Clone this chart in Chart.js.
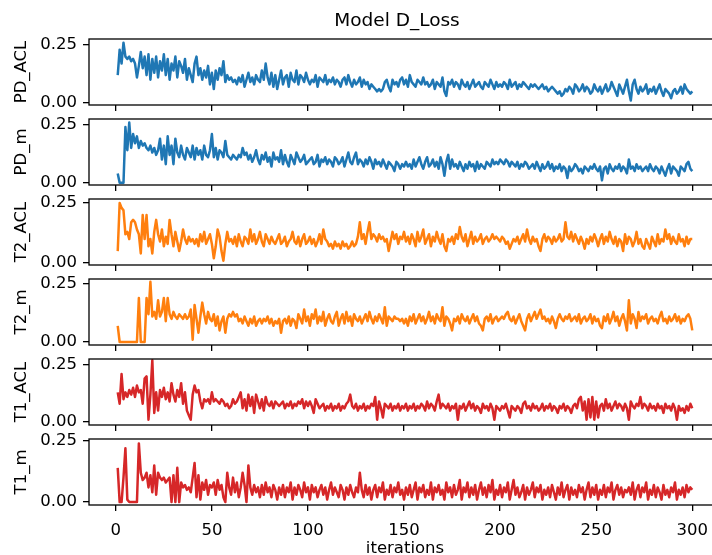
<!DOCTYPE html>
<html>
<head>
<meta charset="utf-8">
<script src="https://cdn.jsdelivr.net/npm/chart.js@4"></script>
<style>
  html, body { margin: 0; padding: 0; background: #fff; overflow: hidden; }
  #fig { position: relative; width: 722px; height: 555px; }
  #fig canvas { position: absolute; left: 0; }
</style>
</head>
<body>
<div id="fig"></div>
<script>
// tick labels
const xTickValues = [0, 50, 100, 150, 200, 250, 300];
const yTickValues = [0, 0.25];
const panelNames = ['PD_ACL', 'PD_m', 'T2_ACL', 'T2_m', 'T1_ACL', 'T1_m'];

// series values, iterations 1..300
const PD_ACL = [
  .12,.23,.17,.26,.2,.19,.2,.18,.19,.17,.11,.16,.22,.15,.2,.12,.21,.1,.19,.13,.2,.11,.18,.14,.21,
  .12,.19,.1,.17,.14,.2,.11,.18,.16,.13,.19,.1,.15,.12,.09,.17,.2,.12,.15,.1,.14,.11,.16,.08,.13,
  .06,.14,.1,.15,.12,.18,.09,.12,.1,.11,.09,.1,.08,.11,.09,.12,.07,.1,.13,.09,.11,.08,.12,.1,.09,
  .14,.1,.17,.11,.08,.13,.07,.12,.06,.1,.14,.08,.11,.12,.07,.13,.1,.09,.14,.08,.12,.11,.09,.13,.1,
  .08,.1,.09,.12,.07,.11,.1,.09,.12,.08,.1,.09,.11,.08,.1,.09,.07,.1,.11,.08,.12,.09,.07,.1,.08,
  .09,.11,.07,.1,.08,.09,.06,.08,.07,.06,.05,.06,.05,.06,.09,.1,.07,.05,.1,.08,.09,.07,.1,.11,.08,
  .1,.07,.12,.09,.08,.07,.1,.09,.08,.11,.08,.09,.07,.08,.1,.06,.09,.08,.07,.11,.05,.03,.09,.08,.1,
  .07,.09,.08,.06,.1,.08,.07,.09,.06,.08,.1,.07,.08,.09,.07,.06,.09,.08,.07,.1,.08,.06,.09,.07,.08,
  .07,.09,.08,.06,.1,.07,.08,.09,.06,.08,.07,.09,.08,.07,.06,.08,.07,.08,.07,.06,.07,.08,.06,.07,.05,
  .06,.07,.06,.05,.04,.05,.03,.04,.06,.05,.07,.06,.04,.08,.07,.05,.06,.08,.05,.07,.06,.04,.05,.08,.06,
  .05,.07,.04,.06,.08,.05,.06,.09,.07,.05,.03,.08,.06,.04,.07,.1,.05,.01,.08,.1,.06,.04,.07,.05,.06,
  .08,.04,.06,.05,.07,.04,.06,.08,.05,.03,.06,.05,.04,.02,.05,.06,.04,.05,.07,.04,.08,.06,.05,.04,.05
];
const PD_m = [
  .04,0,0,0,.24,.14,.26,.15,.21,.17,.2,.15,.18,.16,.17,.15,.14,.16,.13,.15,.12,.14,.19,.1,.16,
  .08,.2,.12,.16,.08,.19,.13,.11,.16,.12,.1,.15,.13,.11,.16,.1,.15,.12,.14,.1,.16,.12,.11,.14,.21,
  .11,.15,.1,.14,.13,.11,.18,.12,.11,.1,.12,.11,.1,.12,.11,.15,.12,.13,.1,.12,.09,.11,.14,.1,.08,
  .12,.1,.13,.09,.11,.07,.13,.1,.11,.09,.14,.08,.12,.09,.07,.12,.1,.08,.13,.11,.09,.1,.12,.08,.09,
  .1,.11,.08,.09,.12,.07,.1,.09,.11,.08,.1,.09,.07,.11,.1,.08,.09,.11,.07,.1,.13,.09,.08,.11,.13,
  .08,.1,.09,.07,.1,.08,.11,.09,.06,.1,.08,.09,.07,.1,.08,.06,.09,.08,.07,.05,.09,.08,.06,.08,.07,
  .09,.07,.08,.06,.1,.07,.09,.11,.08,.06,.09,.11,.07,.08,.1,.07,.09,.06,.11,.08,.03,.09,.12,.06,.1,
  .07,.08,.06,.09,.07,.05,.08,.06,.09,.07,.08,.05,.09,.06,.08,.07,.06,.09,.08,.07,.1,.08,.09,.08,.1,
  .09,.08,.1,.09,.07,.09,.08,.07,.09,.06,.08,.07,.09,.08,.06,.07,.08,.06,.09,.07,.05,.08,.06,.07,.09,
  .06,.08,.05,.07,.06,.08,.05,.07,.06,.02,.07,.05,.06,.08,.07,.05,.06,.04,.07,.06,.05,.07,.06,.08,.06,
  .05,.07,.01,.06,.07,.04,.08,.06,.05,.07,.06,.08,.05,.07,.06,.04,.1,.06,.07,.05,.08,.06,.07,.05,.06,
  .07,.05,.08,.06,.05,.07,.06,.04,.07,.05,.03,.06,.08,.04,.07,.06,.05,.03,.07,.06,.05,.08,.09,.06,.05
];
const T2_ACL = [
  .05,.25,.23,.22,.12,.13,.1,.17,.18,.17,.14,.12,.04,.2,.1,.2,.07,.1,.04,.13,.18,.12,.09,.14,.07,
  .11,.08,.18,.12,.07,.13,.09,.05,.09,.14,.1,.08,.11,.09,.1,.08,.1,.07,.12,.09,.13,.08,.1,.12,.08,
  .02,.07,.14,.11,.05,.01,.08,.13,.09,.1,.08,.11,.07,.12,.09,.07,.11,.1,.08,.14,.09,.12,.08,.1,.13,
  .09,.07,.12,.1,.08,.11,.09,.08,.1,.12,.08,.09,.11,.07,.09,.1,.13,.09,.08,.11,.07,.1,.12,.08,.09,
  .11,.08,.1,.07,.09,.12,.08,.14,.1,.09,.07,.08,.06,.09,.07,.08,.06,.09,.07,.08,.06,.07,.09,.07,.08,
  .11,.17,.1,.12,.08,.13,.17,.1,.12,.11,.09,.12,.1,.11,.09,.1,.05,.09,.13,.1,.12,.08,.11,.1,.13,
  .09,.11,.08,.12,.1,.07,.13,.09,.11,.14,.08,.1,.12,.07,.11,.09,.13,.1,.08,.12,.07,.05,.1,.09,.11,
  .08,.12,.1,.15,.11,.09,.12,.07,.1,.13,.08,.11,.09,.1,.12,.08,.1,.11,.09,.1,.12,.1,.11,.1,.09,
  .11,.1,.08,.09,.06,.08,.1,.09,.11,.08,.1,.12,.09,.14,.1,.08,.11,.09,.1,.07,.05,.1,.12,.09,.11,
  .1,.08,.11,.09,.1,.12,.09,.1,.17,.11,.1,.13,.09,.12,.1,.08,.11,.09,.06,.1,.08,.11,.09,.12,.1,
  .07,.1,.12,.08,.11,.09,.13,.1,.08,.11,.07,.1,.09,.05,.12,.08,.11,.1,.07,.09,.13,.08,.1,.07,.06,
  .1,.08,.06,.11,.09,.07,.12,.08,.1,.09,.14,.1,.12,.08,.11,.09,.08,.12,.09,.1,.07,.11,.08,.1,.1
];
const T2_m = [
  .07,0,0,0,0,0,0,0,0,0,0,.19,0,0,0,.19,.12,.26,.11,.13,.1,.18,.11,.13,.19,
  .09,.19,.12,.1,.13,.11,.1,.12,.11,.1,.12,.1,.11,.14,.01,.16,.1,.04,.11,.17,.12,.08,.13,.1,.09,
  .12,.07,.11,.05,.09,.11,.04,.1,.12,.11,.13,.11,.12,.09,.1,.08,.11,.09,.07,.1,.08,.11,.07,.09,.1,
  .08,.1,.09,.11,.08,.1,.07,.09,.08,.1,.04,.09,.1,.08,.11,.07,.1,.09,.06,.12,.1,.08,.14,.09,.11,
  .07,.12,.1,.14,.08,.11,.09,.13,.07,.1,.12,.09,.08,.11,.13,.07,.1,.12,.08,.13,.09,.11,.07,.12,.1,
  .09,.11,.08,.1,.12,.09,.13,.1,.08,.11,.09,.12,.1,.08,.15,.07,.11,.1,.09,.11,.1,.1,.09,.1,.08,
  .1,.07,.11,.09,.12,.08,.1,.12,.09,.11,.08,.1,.13,.09,.11,.08,.12,.1,.09,.15,.07,.11,.1,.08,.05,
  .1,.09,.11,.08,.12,.1,.09,.11,.08,.1,.12,.09,.11,.08,.07,.05,.1,.11,.09,.12,.08,.1,.11,.09,.1,
  .11,.1,.12,.13,.1,.09,.11,.08,.1,.12,.09,.07,.05,.1,.12,.09,.11,.13,.1,.12,.14,.1,.11,.09,.1,
  .08,.11,.09,.06,.1,.12,.1,.09,.11,.1,.12,.09,.1,.11,.09,.12,.08,.1,.11,.09,.1,.12,.08,.11,.09,
  .1,.07,.06,.11,.09,.12,.08,.1,.13,.09,.11,.07,.1,.12,.09,.05,.18,.08,.12,.1,.06,.13,.09,.11,.1,
  .12,.08,.1,.11,.09,.1,.08,.11,.13,.09,.1,.08,.11,.09,.1,.12,.09,.11,.08,.1,.09,.11,.12,.1,.05
];
const T1_ACL = [
  .13,.08,.21,.1,.13,.11,.14,.12,.15,.11,.16,.13,.14,.08,.19,.2,.01,.12,.27,.04,.13,.05,.14,.11,.15,
  .1,.13,.09,.17,.12,.09,.14,.11,.17,.08,.13,.05,.03,.01,.12,.16,.13,.14,.09,.06,.1,.09,.1,.08,.13,
  .09,.1,.09,.08,.1,.09,.07,.08,.06,.07,.1,.08,.09,.11,.13,.06,.1,.05,.12,.07,.11,.04,.12,.09,.06,
  .1,.05,.11,.08,.07,.09,.06,.09,.08,.07,.08,.09,.06,.08,.07,.09,.06,.08,.07,.09,.08,.1,.06,.09,.07,
  .09,.07,.04,.1,.08,.06,.07,.08,.05,.07,.06,.08,.05,.07,.06,.08,.05,.07,.06,.08,.09,.12,.07,.06,.08,
  .05,.07,.06,.08,.05,.07,.06,.08,.07,.11,.01,.09,.06,.02,.08,.07,.06,.08,.05,.07,.06,.08,.05,.07,.06,
  .08,.05,.07,.06,.08,.05,.07,.06,.08,.07,.05,.09,.06,.08,.07,.05,.09,.12,.06,.08,.07,.06,.08,.05,.07,
  .06,.08,.01,.07,.06,.08,.05,.07,.09,.06,.08,.05,.07,.06,.04,.08,.06,.07,.05,.08,.06,.01,.07,.06,.05,
  .07,.06,.08,.05,.02,.07,.06,.05,.07,.06,.04,.08,.09,.06,.07,.05,.08,.06,.07,.05,.06,.08,.05,.07,.06,
  .08,.05,.07,.06,.04,.07,.06,.08,.05,.07,.06,.04,.07,.08,.06,.1,.11,.05,.09,.01,.1,.02,.11,.01,.09,
  .02,.07,.08,.05,.1,.06,.08,.05,.07,.09,.06,.08,.07,.05,.08,.06,.01,.09,.07,.06,.08,.07,.11,.06,.08,
  .07,.05,.08,.06,.07,.05,.08,.06,.07,.04,.08,.06,.07,.05,.08,.06,.01,.07,.05,.06,.04,.07,.05,.08,.06
];
const T1_m = [
  .14,0,0,.1,.22,.01,0,0,0,0,0,.24,.12,.09,.1,.12,.06,.11,.04,.15,.03,.12,.1,.09,.1,
  .08,.09,.1,0,.11,0,.14,0,.08,.06,.07,.05,.06,.04,.1,.16,.02,.11,.01,.08,.05,.09,.03,.07,.06,
  .08,.03,.09,.05,.07,.02,0,.12,.06,.03,.1,.04,.08,.02,.06,.12,.07,0,.15,.06,.03,.07,.04,.06,.02,
  .07,.03,.08,.04,.06,.02,.07,.05,.01,.06,.03,.07,.02,.06,.04,.08,.01,.06,.03,.07,.05,.02,.08,.04,.06,
  .01,.07,.04,.06,.02,.05,.07,.03,.06,.01,.05,.08,.03,.06,.04,.02,.07,.05,.01,.06,.03,.07,.04,.02,.06,
  .04,.12,.05,.02,.07,.03,.06,.01,.05,.07,.02,.06,.04,.08,.01,.05,.03,.07,.02,.06,.04,.08,.03,.05,.01,
  .06,.03,.07,.02,.05,.08,.01,.06,.04,.07,.02,.05,.03,.08,.01,.06,.04,.07,.03,.05,.01,.08,.04,.06,.02,
  .07,.03,.05,.09,.01,.06,.04,.08,.02,.06,.03,.07,.01,.05,.08,.03,.06,.02,.07,.04,.09,.01,.05,.03,.07,
  .02,.06,.04,.08,.01,.05,.09,.03,.06,.02,.04,.07,.01,.06,.03,.05,.08,.02,.06,.04,.07,.01,.05,.03,.06,
  .02,.07,.04,.01,.06,.03,.08,.02,.05,.07,.01,.06,.03,.05,.02,.07,.04,.06,.01,.05,.08,.02,.06,.03,.07,
  .01,.05,.03,.07,.02,.06,.04,.08,.01,.05,.07,.03,.06,.02,.05,.04,.06,.03,.08,.01,.05,.07,.02,.06,.04,
  .08,.01,.05,.03,.07,.02,.06,.04,.01,.07,.03,.05,.02,.06,.04,.08,.01,.05,.03,.06,.02,.07,.04,.06,.05
];

const seriesList = [PD_ACL, PD_m, T2_ACL, T2_m, T1_ACL, T1_m];
const seriesColors = ['#1f77b4', '#1f77b4', '#ff7f0e', '#ff7f0e', '#d62728', '#d62728'];
const yRanges = [[-0.009, 0.276], [-0.01, 0.275], [-0.008, 0.267], [-0.013, 0.272], [-0.013, 0.276], [-0.012, 0.258]];

const fontFamily = 'DejaVu Sans';
const fig = document.getElementById('fig');

// white axes background + 4 spines like matplotlib
const frame = {
  id: 'frame',
  beforeDatasetsDraw(chart) {
    const a = chart.chartArea, ctx = chart.ctx;
    ctx.save();
    ctx.fillStyle = '#fff';
    ctx.fillRect(a.left, a.top, a.right - a.left, a.bottom - a.top);
    ctx.restore();
  },
  afterDatasetsDraw(chart) {
    const a = chart.chartArea, ctx = chart.ctx;
    ctx.save();
    ctx.strokeStyle = '#000';
    ctx.lineWidth = 1.3;
    ctx.strokeRect(a.left, a.top, a.right - a.left, a.bottom - a.top);
    ctx.restore();
  }
};

const figTitle = {
  id: 'figTitle',
  afterDraw(chart) {
    const ctx = chart.ctx;
    ctx.save();
    ctx.font = '18.5px "' + fontFamily + '"';
    ctx.fillStyle = '#000';
    ctx.textAlign = 'center';
    ctx.textBaseline = 'middle';
    ctx.fillText('Model D_Loss', 397, 21);
    ctx.restore();
  }
};

seriesList.forEach(function(values, k) {
  const axTop = 39 + 80 * k;
  const canvasTop = k === 0 ? 0 : axTop - 16;
  const padTop = axTop - canvasTop;
  const xh = k === 5 ? 54 : 40;
  const canvas = document.createElement('canvas');
  canvas.width = 722;
  canvas.height = padTop + 66 + xh;
  canvas.style.top = canvasTop + 'px';
  canvas.style.width = '722px';
  canvas.style.height = canvas.height + 'px';
  fig.appendChild(canvas);

  const tickFont = { family: fontFamily, size: 16.5 };
  const gridOpts = { drawOnChartArea: false, drawTicks: true, tickLength: 6, tickColor: '#000', lineWidth: 1.3, color: '#000' };

  new Chart(canvas, {
    type: 'line',
    data: {
      datasets: [{
        data: values.map((v, i) => ({ x: i + 1, y: v })),
        borderColor: seriesColors[k],
        borderWidth: 2.5,
        borderJoinStyle: 'round',
        pointRadius: 0,
        tension: 0,
        fill: false
      }]
    },
    options: {
      responsive: false,
      animation: false,
      devicePixelRatio: 1,
      layout: { padding: { top: padTop, left: 0, right: 1, bottom: 0 } },
      plugins: { legend: { display: false }, tooltip: { enabled: false } },
      scales: {
        x: {
          type: 'linear',
          min: -13.95,
          max: 314.95,
          afterBuildTicks: s => { s.ticks = xTickValues.map(v => ({ value: v })); },
          afterFit: s => { s.height = xh; },
          grid: gridOpts,
          border: { display: false },
          ticks: { font: tickFont, color: '#000', padding: 10, maxRotation: 0, autoSkip: false, callback: v => String(v) },
          title: {
            display: k === 5,
            text: 'iterations',
            color: '#000',
            font: { family: fontFamily, size: 16.5 },
            padding: { top: 0, bottom: 0 }
          }
        },
        y: {
          type: 'linear',
          min: yRanges[k][0],
          max: yRanges[k][1],
          afterBuildTicks: s => { s.ticks = yTickValues.map(v => ({ value: v })); },
          afterFit: s => { s.width = 89; },
          grid: gridOpts,
          border: { display: false },
          ticks: { font: tickFont, color: '#000', padding: 6, callback: v => v.toFixed(2) },
          title: {
            display: true,
            text: panelNames[k],
            color: '#000',
            font: { family: fontFamily, size: 16.5 },
            padding: { top: 12, bottom: 0 }
          }
        }
      }
    },
    plugins: k === 0 ? [frame, figTitle] : [frame]
  });
});
</script>
</body>
</html>
